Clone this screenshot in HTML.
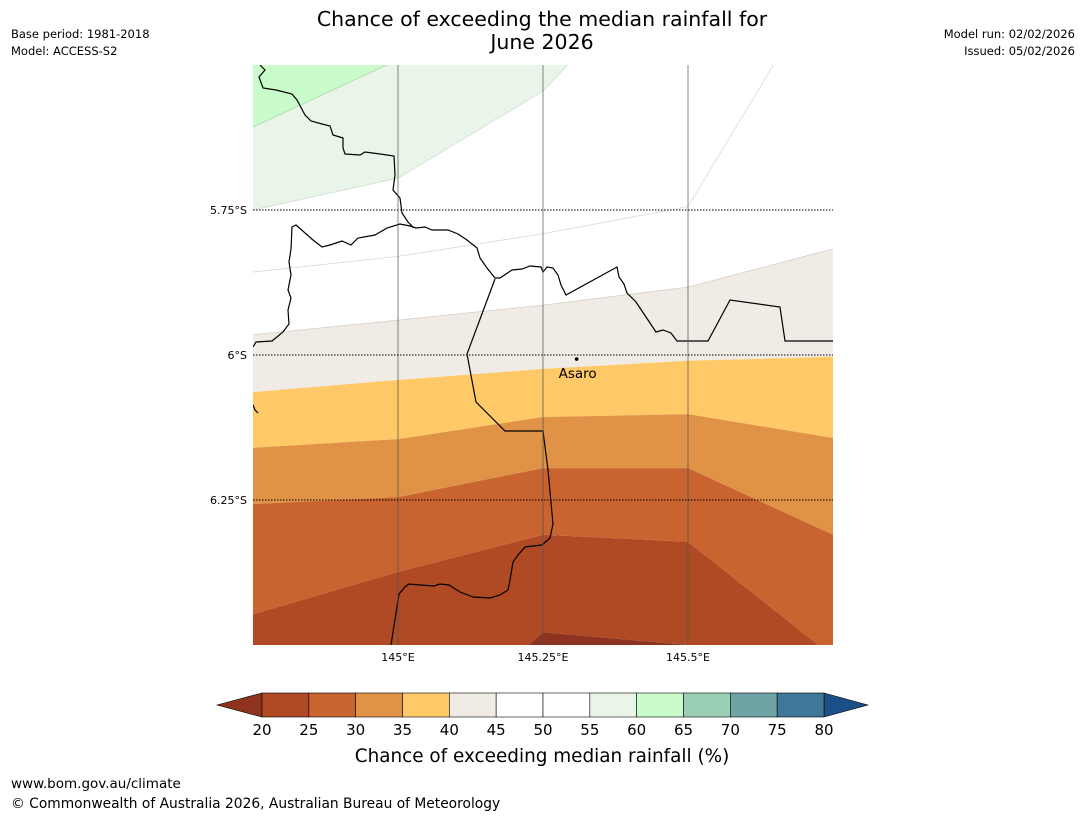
<!DOCTYPE html>
<html><head><meta charset="utf-8">
<style>
html,body{margin:0;padding:0;background:#fff;overflow:hidden;width:1085px;height:816px;}
svg{display:block;}
svg text{font-family:"DejaVu Sans","Liberation Sans",sans-serif;}
</style></head>
<body>
<svg id="chart" width="1085" height="816" viewBox="0 0 1085 816" xmlns="http://www.w3.org/2000/svg">
<rect width="1085" height="816" fill="#fff"/>
<text x="542" y="26" font-size="20.5" text-anchor="middle">Chance of exceeding the median rainfall for</text>
<text x="542" y="49" font-size="20.5" text-anchor="middle">June 2026</text>
<text x="11" y="38" font-size="11.5">Base period: 1981-2018</text>
<text x="11" y="55" font-size="11.5">Model: ACCESS-S2</text>
<text x="1075" y="38" font-size="11.5" text-anchor="end">Model run: 02/02/2026</text>
<text x="1075" y="55" font-size="11.5" text-anchor="end">Issued: 05/02/2026</text>
<defs><clipPath id="mapclip"><rect x="253" y="65" width="580" height="580"/></clipPath></defs>
<g id="map" clip-path="url(#mapclip)"></g>
<g id="cbar"></g>
<text x="542" y="762" font-size="18.4" text-anchor="middle">Chance of exceeding median rainfall (%)</text>
<text x="11" y="788" font-size="13.5">www.bom.gov.au/climate</text>
<text x="11" y="808" font-size="13.8">© Commonwealth of Australia 2026, Australian Bureau of Meteorology</text>
</svg>
<script>
// ---- data ----
const lonNodes = [144.75, 145.0, 145.25, 145.5, 145.75];
const c4045 = [5.965, 5.94, 5.914, 5.883, 5.817];
const c3540 = [6.064, 6.043, 6.024, 6.01, 6.003];
const c3035 = [6.16, 6.145, 6.107, 6.102, 6.143];
const c2530 = [6.257, 6.245, 6.195, 6.195, 6.31];
const c2025 = [6.447, 6.374, 6.31, 6.322, 6.52];
const c5055 = [5.75, 5.695, 5.545, 5.28, 5.0];
const c5560 = [5.607, 5.491, 5.376, 5.25, 5.13];
const c4550 = [5.857, 5.83, 5.791, 5.744, 5.33];
const cLow = [6.7, 6.7, 6.478, 6.5, 6.7];
const gridLons = [145.0, 145.25, 145.5];
const gridLats = [5.75, 6.0, 6.25];
const lonLabels = ["145°E", "145.25°E", "145.5°E"];
const latLabels = ["5.75°S", "6°S", "6.25°S"];
const cbarLevels = [20,25,30,35,40,45,50,55,60,65,70,75,80];
const cbarColors = ["#b04a24","#c96431","#e09346","#fec966","#f0ebe5","#ffffff","#ffffff","#eaf5ea","#c9fcca","#9acfb6","#6ea4a6","#3e7899"];
const town = {name:"Asaro", lon:145.308, lat:6.007};

// ---- axes ----
const X = lon => 253 + (lon - 144.75) / 0.25 * 145;
const Y = lat => 65 + (lat - 5.5) / 0.25 * 145;
const NS = "http://www.w3.org/2000/svg";
function mk(tag, attrs, parent){const e=document.createElementNS(NS,tag);for(const k in attrs)e.setAttribute(k,attrs[k]);parent.appendChild(e);return e;}
const map = document.getElementById('map');
function line(arr){return lonNodes.map((l,i)=>X(l)+','+Y(arr[i])).join(' ');}
function band(top, bot, color, name){
  const pts = lonNodes.map((l,i)=>X(l)+','+Y(top[i])).concat(lonNodes.slice().reverse().map((l,j)=>X(l)+','+Y(bot[lonNodes.length-1-j])));
  const p = mk('polygon',{points:pts.join(' '),fill:color},map);
  
  
}
const topEdge = lonNodes.map(()=>4.5);
band(topEdge, c5560, "#c9fcca", "band-60-65");
band(c5560, c5055, "#eaf5ea", "band-55-60");
band(c5055, c4045, "#ffffff", "band-45-55");
band(c4045, c3540, "#f0ebe5", "band-40-45");
band(c3540, c3035, "#fec966", "band-35-40");
band(c3035, c2530, "#e09346", "band-30-35");
band(c2530, c2025, "#c96431", "band-25-30");
band(c2025, cLow, "#b04a24", "band-20-25");
band(cLow, lonNodes.map(()=>7.0), "#8e3320", "band-below-20");
[[c5560,"#a8d8a8"],[c5055,"#cfdccf"],[c4550,"#d8d8d8"],[c4045,"#d6d0c8"]].forEach(([a,c])=>{
  const pl = mk('polyline',{points:line(a),fill:'none',stroke:c,'stroke-width':0.8},map);
  
  
});
// borders
const b1="260,65 265,70 259,77 263,88 276,90 292,94 297,100 305,115 311,121 322,124 330,126 333,135 343,138 343,148 345,154 360,155 365,152 380,154 394,156 395,175 393,190 400,198 402,213 408,222 414,228";
const b2="253,347 256,342 272,341 283,332 289,324 288,310 291,298 288,290 291,275 289,262 291,249 292,227 296,225 313,240 322,247 330,245 342,241 351,245 358,238 375,235 387,228 400,224 410,226 416,228 425,227 432,230 448,230 458,234 467,240 477,248 480,258 487,268 495,278 500,278 512,270 522,269 530,266 541,267 543,272 547,267 553,268 558,275 561,285 566,295 617,267 619,277 624,284 627,293 636,302 648,320 656,332 663,330 671,333 677,341 708,341 730,300 780,307 785,341 833,341";
const b3="495,279 467,354 476,402 505,431 543,431 548,470 553,524 550,538 542,545 525,547 518,555 513,562 510,580 508,590 500,595 490,598 473,597 460,592 449,585 440,584 434,586 420,585 409,584 405,587 399,594 391,645";
[b1,b2,b3,"253,405 255,410 258,413"].forEach(pts=>{
  const pl = mk('polyline',{points:pts,fill:'none',stroke:'#000','stroke-width':1.2},map);
  
  
});
const svg = document.getElementById('chart');
gridLons.forEach((l,i)=>{
  const g = mk('line',{x1:X(l),x2:X(l),y1:65,y2:645,stroke:'#555','stroke-opacity':0.6,'stroke-width':1.2},svg);
  
  
  const t = mk('text',{x:X(l),y:661,'font-size':11,'text-anchor':'middle'},svg);
  t.textContent = lonLabels[i];
  
  
});
gridLats.forEach((l,i)=>{
  const g = mk('line',{x1:253,x2:833,y1:Y(l),y2:Y(l),stroke:'#000','stroke-width':1,'stroke-dasharray':'1.5,1.5'},svg);
  
  
  const t = mk('text',{x:247,y:Y(l)+4,'font-size':11,'text-anchor':'end'},svg);
  t.textContent = latLabels[i];
  
  
});
const dot = mk('circle',{cx:X(town.lon),cy:Y(town.lat),r:1.8,fill:'#000'},svg);


const tl = mk('text',{x:X(town.lon)-18,y:Y(town.lat)+19,'font-size':13.5},svg);
tl.textContent = town.name;



// colorbar
const cb = document.getElementById('cbar');
const cx0=262, cx1=824, cy0=693, cy1=717;
const CX = v => cx0 + (v-cbarLevels[0])/(cbarLevels[cbarLevels.length-1]-cbarLevels[0])*(cx1-cx0);
const lo = mk('polygon',{points:`217,705 ${cx0},${cy0} ${cx0},${cy1}`,fill:'#8e3320',stroke:'#000','stroke-width':0.6},cb);


const hi = mk('polygon',{points:`868,705 ${cx1},${cy0} ${cx1},${cy1}`,fill:'#1a4f87',stroke:'#000','stroke-width':0.6},cb);


cbarColors.forEach((c,i)=>{
  const r = mk('rect',{x:CX(cbarLevels[i]),y:cy0,width:CX(cbarLevels[i+1])-CX(cbarLevels[i]),height:cy1-cy0,fill:c,stroke:'#000','stroke-width':0.6},cb);
  
  
});
cbarLevels.forEach(v=>{
  const t = mk('text',{x:CX(v),y:735,'font-size':15,'text-anchor':'middle'},cb);
  t.textContent = v;
  
  
});
</script>
</body></html>
